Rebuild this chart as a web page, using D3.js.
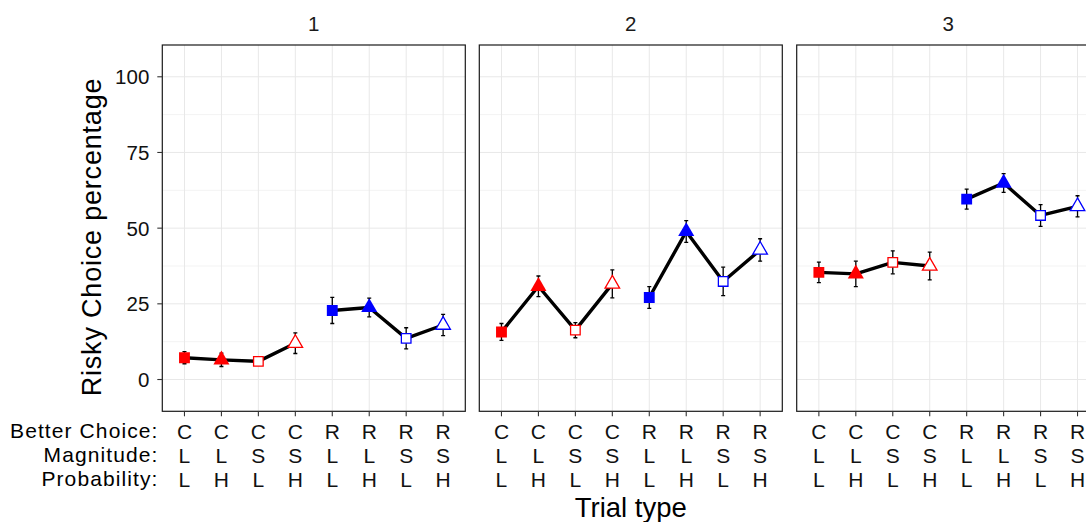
<!DOCTYPE html>
<html>
<head>
<meta charset="utf-8">
<script src="https://cdn.jsdelivr.net/npm/d3@7"></script>
<style>
  html, body { margin: 0; padding: 0; background: #fff; }
  svg { display: block; font-family: "Liberation Sans", Arial, Helvetica, sans-serif; }
</style>
</head>
<body>
<svg id="chart" width="1086" height="522"></svg>
<script>
// ---- data ----
const panels = ["1", "2", "3"];
const categories = ["CLL", "CLH", "CSL", "CSH", "RLL", "RLH", "RSL", "RSH"];
const betterChoice = ["C", "C", "C", "C", "R", "R", "R", "R"];
const magnitude = ["L", "L", "S", "S", "L", "L", "S", "S"];
const probability = ["L", "H", "L", "H", "L", "H", "L", "H"];
const rowLabels = ["Better Choice:", "Magnitude:", "Probability:"];
const yTicks = [0, 25, 50, 75, 100];
const yMinor = [12.5, 37.5, 62.5, 87.5];

const values1 = [7.2, 6.5, 6.0, 12.0, 22.8, 23.8, 13.6, 18.0];
const errors1 = [2.0, 2.2, 1.2, 3.4, 4.3, 3.1, 3.5, 3.5];
const values2 = [15.7, 30.8, 16.3, 31.6, 27.1, 48.9, 32.4, 42.8];
const errors2 = [2.8, 3.4, 2.5, 4.6, 3.6, 3.6, 4.7, 3.7];
const values3 = [35.4, 34.9, 38.7, 37.5, 59.6, 64.9, 54.2, 57.2];
const errors3 = [3.4, 4.2, 3.8, 4.6, 3.3, 3.1, 3.6, 3.5];
const panelValues = [values1, values2, values3];
const panelErrors = [errors1, errors2, errors3];

// marker style per category: colour, shape, filled
const colours = ["#ff0000", "#ff0000", "#ff0000", "#ff0000", "#0000ff", "#0000ff", "#0000ff", "#0000ff"];
const shapes = ["square", "triangle", "square", "triangle", "square", "triangle", "square", "triangle"];
const filled = [true, true, false, false, true, true, false, false];
const groups = [["CLL", "CLH", "CSL", "CSH"], ["RLL", "RLH", "RSL", "RSH"]];

// ---- layout ----
const svg = d3.select("#chart");
const panelLeft = [162.3, 479.3, 796.7];
const panelW = 303;
const panelTop = 45;
const panelH = 366.3;

const x = d3.scalePoint().domain(categories).range([0, panelW]).padding(0.6);
const y = d3.scaleLinear().domain([-10.5, 110.5]).range([panelH, 0]);

panels.forEach((p, pi) => {
  const g = svg.append("g").attr("transform", `translate(${panelLeft[pi]},${panelTop})`);
  const vals = panelValues[pi];
  const errs = panelErrors[pi];
  const data = categories.map((c, i) => ({ c, i, v: vals[i], e: errs[i] }));

  const clipId = "clip" + pi;
  g.append("clipPath").attr("id", clipId).append("rect").attr("width", panelW).attr("height", panelH);
  const inner = g.append("g").attr("clip-path", `url(#${clipId})`);

  inner.append("rect").attr("width", panelW).attr("height", panelH).attr("fill", "#fff");

  // minor grid
  inner.selectAll(".ymin").data(yMinor).enter().append("line")
    .attr("x1", 0).attr("x2", panelW)
    .attr("y1", d => y(d)).attr("y2", d => y(d))
    .attr("stroke", "#f3f3f3").attr("stroke-width", 1);
  // major grid
  inner.selectAll(".ymaj").data(yTicks).enter().append("line")
    .attr("x1", 0).attr("x2", panelW)
    .attr("y1", d => y(d)).attr("y2", d => y(d))
    .attr("stroke", "#e8e8e8").attr("stroke-width", 1);
  inner.selectAll(".xmaj").data(categories).enter().append("line")
    .attr("x1", d => x(d)).attr("x2", d => x(d))
    .attr("y1", 0).attr("y2", panelH)
    .attr("stroke", "#e8e8e8").attr("stroke-width", 1);

  // error bars
  const eb = inner.selectAll(".eb").data(data).enter().append("g")
    .attr("stroke", "#000").attr("stroke-width", 1.3).attr("fill", "none");
  eb.append("line").attr("x1", d => x(d.c)).attr("x2", d => x(d.c))
    .attr("y1", d => y(d.v - d.e)).attr("y2", d => y(d.v + d.e));
  eb.append("line").attr("x1", d => x(d.c) - 2).attr("x2", d => x(d.c) + 2)
    .attr("y1", d => y(d.v - d.e)).attr("y2", d => y(d.v - d.e));
  eb.append("line").attr("x1", d => x(d.c) - 2).attr("x2", d => x(d.c) + 2)
    .attr("y1", d => y(d.v + d.e)).attr("y2", d => y(d.v + d.e));

  // lines
  const line = d3.line().x(d => x(d.c)).y(d => y(d.v));
  groups.forEach(gr => {
    inner.append("path")
      .datum(data.filter(d => gr.includes(d.c)))
      .attr("d", line)
      .attr("fill", "none").attr("stroke", "#000").attr("stroke-width", 3.4)
      .attr("stroke-linejoin", "round");
  });

  // points
  inner.selectAll(".pt").data(data).enter().append("path")
    .attr("transform", d => `translate(${x(d.c)},${y(d.v)})`)
    .attr("d", d => {
      const open = !filled[d.i];
      if (shapes[d.i] === "square") return d3.symbol(d3.symbolSquare, open ? 92 : 118)();
      return d3.symbol(d3.symbolTriangle, open ? 92 : 112)();
    })
    .attr("fill", d => filled[d.i] ? colours[d.i] : "#fff")
    .attr("stroke", d => filled[d.i] ? "none" : colours[d.i])
    .attr("stroke-width", 1.3);

  // border
  g.append("rect").attr("width", panelW).attr("height", panelH)
    .attr("fill", "none").attr("stroke", "#1a1a1a").attr("stroke-width", 1.2);

  // strip label
  g.append("text").attr("x", panelW / 2).attr("y", -14)
    .attr("text-anchor", "middle").attr("font-size", 20.5).attr("fill", "#1a1a1a")
    .text(p);

  // x axis ticks and labels
  const xa = g.append("g").attr("transform", `translate(0,${panelH})`);
  xa.selectAll(".xt").data(categories).enter().append("line")
    .attr("x1", d => x(d)).attr("x2", d => x(d)).attr("y1", 0).attr("y2", 5)
    .attr("stroke", "#333").attr("stroke-width", 1.1);
  const rows = [betterChoice, magnitude, probability];
  rows.forEach((row, ri) => {
    xa.selectAll(".xl" + ri).data(categories).enter().append("text")
      .attr("x", d => x(d)).attr("y", 27.4 + ri * 24.1)
      .attr("text-anchor", "middle").attr("font-size", 21).attr("fill", "#111")
      .text((d, i) => row[i]);
  });

  // y axis on first panel
  if (pi === 0) {
    const ya = g.append("g");
    ya.selectAll(".yt").data(yTicks).enter().append("line")
      .attr("x1", -5).attr("x2", 0).attr("y1", d => y(d)).attr("y2", d => y(d))
      .attr("stroke", "#333").attr("stroke-width", 1.1);
    ya.selectAll(".yl").data(yTicks).enter().append("text")
      .attr("x", -13).attr("y", d => y(d)).attr("dy", "0.36em")
      .attr("text-anchor", "end").attr("font-size", 20.5).attr("fill", "#111")
      .text(d => d);
  }
});

// row labels
rowLabels.forEach((t, ri) => {
  svg.append("text").attr("x", 158.5).attr("y", panelTop + panelH + 26.8 + ri * 24.1)
    .attr("text-anchor", "end").attr("font-size", 21).attr("letter-spacing", 1.1)
    .attr("fill", "#000").text(t);
});

// axis titles
svg.append("text")
  .attr("x", panelLeft[1] + panelW / 2).attr("y", 516.5)
  .attr("text-anchor", "middle").attr("font-size", 27.5).attr("fill", "#000")
  .text("Trial type");
svg.append("text")
  .attr("transform", "translate(101,237) rotate(-90)")
  .attr("text-anchor", "middle").attr("font-size", 27).attr("letter-spacing", 0.8)
  .attr("fill", "#000")
  .text("Risky Choice percentage");
</script>
</body>
</html>
